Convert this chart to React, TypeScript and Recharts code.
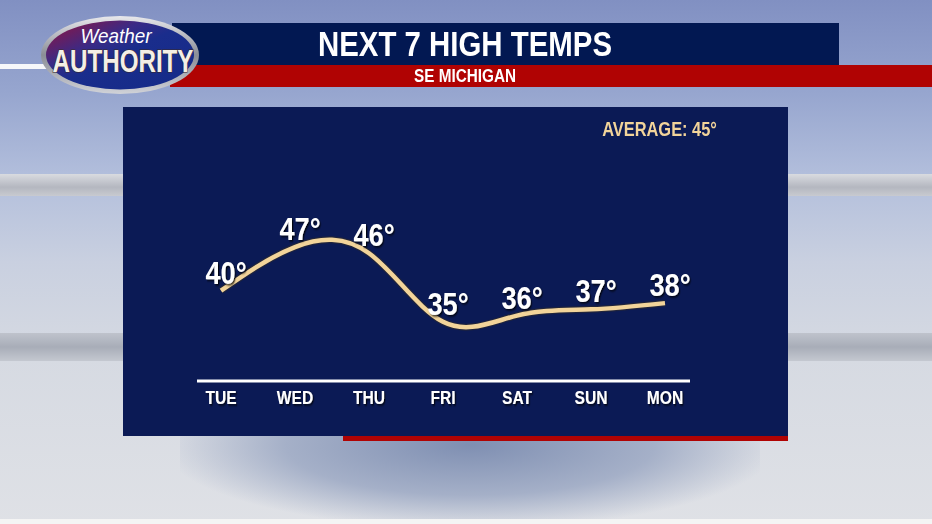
import { LineChart, Line, XAxis, YAxis, LabelList } from 'recharts';

const days = ['TUE', 'WED', 'THU', 'FRI', 'SAT', 'SUN', 'MON'];
const highs = [40, 47, 46, 35, 36, 37, 38];
const title = 'NEXT 7 HIGH TEMPS';
const region = 'SE MICHIGAN';
const average = 45;

const FONT = '"Liberation Sans", Arial, sans-serif';
const SQUEEZE = 0.82;
const NAVY = '#021852';
const PANEL = '#0b1a55';
const RED = '#b00303';
const LINE = '#f2d49a';

const chartData = days.map((d, i) => ({ day: d, high: highs[i] }));

function TempLabel(props: any) {
  const { x, y, value } = props;
  if (x == null || y == null) return null;
  return (
    <text
      transform={`translate(${x + 5},${y - 7}) scale(0.85,1)`}
      textAnchor="middle"
      fontFamily={FONT}
      fontWeight={700}
      fontSize={32}
      fill="#ffffff"
      filter="url(#shadow)"
    >
      {value}°
    </text>
  );
}

function DayTick(props: any) {
  const { x, y, payload } = props;
  return (
    <text
      transform={`translate(${x},${y + 15}) scale(${SQUEEZE},1)`}
      textAnchor="middle"
      fontFamily={FONT}
      fontWeight={700}
      fontSize={19}
      fill="#ffffff"
      filter="url(#shadow)"
    >
      {payload.value}
    </text>
  );
}

function Squeezed({ children, size, color, k }: { children: any; size: number; color: string; k: number }) {
  return (
    <span
      style={{
        display: 'inline-block',
        transform: `scaleX(${k})`,
        fontFamily: FONT,
        fontWeight: 700,
        fontSize: size,
        color,
        whiteSpace: 'nowrap',
      }}
    >
      {children}
    </span>
  );
}

function Logo() {
  return (
    <svg width={180} height={90} style={{ position: 'absolute', left: 30, top: 10 }}>
      <defs>
        <linearGradient id="rim" x1="0" y1="0" x2="0" y2="1">
          <stop offset="0" stopColor="#e8e8ec" />
          <stop offset="0.5" stopColor="#8a8d96" />
          <stop offset="1" stopColor="#d0d2d8" />
        </linearGradient>
        <linearGradient id="fill" x1="0" y1="0" x2="1" y2="1">
          <stop offset="0" stopColor="#9a1238" />
          <stop offset="0.33" stopColor="#3a2a86" />
          <stop offset="0.5" stopColor="#1a2d8c" />
          <stop offset="1" stopColor="#142a88" />
        </linearGradient>
      </defs>
      <ellipse cx={90} cy={45} rx={79} ry={39} fill="url(#rim)" />
      <ellipse cx={90} cy={45} rx={74} ry={34.5} fill="url(#fill)" />
      <text
        transform={`translate(${86},33) scale(0.9,1)`}
        textAnchor="middle"
        fontFamily={FONT}
        fontStyle="italic"
        fontSize={21}
        fill="#fff"
      >
        Weather
      </text>
      <text
        transform={`translate(${93},62) scale(0.78,1)`}
        textAnchor="middle"
        fontFamily={FONT}
        fontWeight={700}
        fontSize={31}
        fill="#f4efe6"
        stroke="#3a2a2a"
        strokeWidth={1.2}
        paintOrder="stroke"
      >
        AUTHORITY
      </text>
    </svg>
  );
}

export default function App() {
  return (
    <div
      style={{
        position: 'absolute',
        left: 0,
        top: 0,
        width: 932,
        height: 524,
        overflow: 'hidden',
        background:
          'linear-gradient(180deg, #8190c2 0%, #97a6cf 18%, #b3bfdc 34%, #c9d0e0 50%, #d6dae2 68%, #dfe1e6 100%)',
      }}
    >
      <svg width={0} height={0} style={{ position: 'absolute' }}>
        <defs>
          <filter id="shadow" x="-20%" y="-20%" width="150%" height="150%">
            <feDropShadow dx={1.5} dy={1.5} stdDeviation={0.8} floodColor="#000" floodOpacity={0.8} />
          </filter>
        </defs>
      </svg>

      {/* studio bands */}
      <div style={{ position: 'absolute', left: 0, top: 174, width: 932, height: 22, background: 'linear-gradient(180deg, #d9dbe0, #b4b7c0 60%, #c8cad0)' }} />
      <div style={{ position: 'absolute', left: 0, top: 333, width: 932, height: 28, background: 'linear-gradient(180deg, #bfc3cc, #a8adb8 50%, #c4c8d0)' }} />
      <div
        style={{
          position: 'absolute',
          left: 180,
          top: 436,
          width: 580,
          height: 88,
          background: 'radial-gradient(ellipse at 50% 10%, #7f8fb2 0%, #a5b0c8 45%, rgba(210,214,222,0) 75%)',
        }}
      />
      <div style={{ position: 'absolute', left: 0, top: 519, width: 932, height: 5, background: '#f4f4f4' }} />

      {/* header */}
      <div style={{ position: 'absolute', left: 0, top: 64, width: 50, height: 5, background: '#f6f7fa' }} />
      <div style={{ position: 'absolute', left: 172, top: 23, width: 667, height: 42, background: NAVY }} />
      <div style={{ position: 'absolute', left: 170, top: 65, width: 762, height: 22, background: RED }} />
      <div style={{ position: 'absolute', left: 172, top: 23, width: 586, height: 42, lineHeight: '42px', textAlign: 'center' }}>
        <Squeezed size={35} color="#fff" k={0.84}>{title}</Squeezed>
      </div>
      <div style={{ position: 'absolute', left: 172, top: 65, width: 586, height: 22, lineHeight: '22px', textAlign: 'center' }}>
        <Squeezed size={18} color="#fff" k={0.85}>{region}</Squeezed>
      </div>
      <Logo />

      {/* panel */}
      <div style={{ position: 'absolute', left: 123, top: 107, width: 665, height: 329, background: PANEL }} />
      <div style={{ position: 'absolute', left: 343, top: 436, width: 445, height: 5, background: RED }} />
      <div style={{ position: 'absolute', left: 537, top: 115, width: 180, textAlign: 'right', lineHeight: '28px' }}>
        <span style={{ display: 'inline-block', transformOrigin: '100% 50%', transform: `scaleX(${SQUEEZE})`, fontFamily: FONT, fontWeight: 700, fontSize: 20, color: LINE, whiteSpace: 'nowrap' }}>
          AVERAGE: {average}°
        </span>
      </div>

      <div style={{ position: 'absolute', left: 0, top: 0 }}>
        <LineChart width={932} height={524} data={chartData} margin={{ top: 219, right: 242, bottom: 113, left: 197 }}>
          <XAxis
            dataKey="day"
            padding={{ left: 24, right: 25 }}
            axisLine={{ stroke: '#ffffff', strokeWidth: 3 }}
            tickLine={false}
            interval={0}
            tick={<DayTick />}
          />
          <YAxis hide width={0} domain={[25.5, 51.5]} />
          <Line dataKey="high" type="natural" stroke="#3a3020" strokeWidth={7} strokeOpacity={0.45} dot={false} isAnimationActive={false} />
          <Line dataKey="high" type="natural" stroke={LINE} strokeWidth={4.5} dot={false} isAnimationActive={false}>
            <LabelList dataKey="high" content={<TempLabel />} />
          </Line>
        </LineChart>
      </div>
    </div>
  );
}
